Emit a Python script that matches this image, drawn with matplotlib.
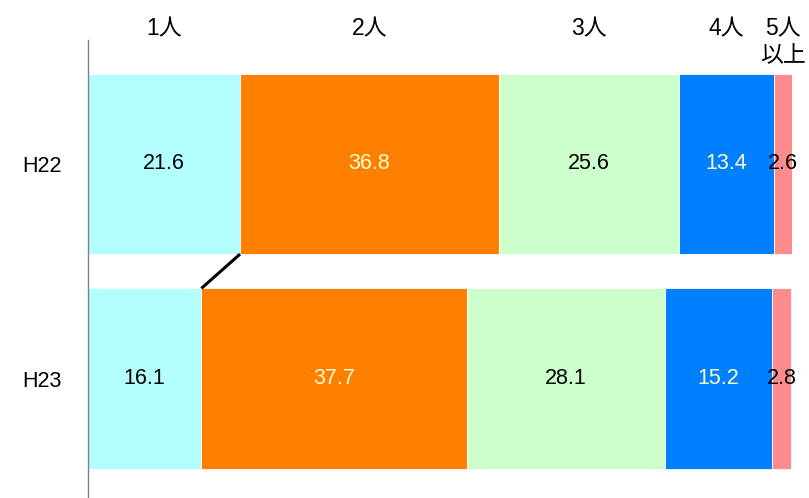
import matplotlib.pyplot as plt
import matplotlib.transforms as mtransforms
import numpy as np

plt.rcParams['font.family'] = ['Liberation Sans', 'Noto Sans CJK JP', 'DejaVu Sans']

# --- data ---
years = ['H22', 'H23']
groups = ['1人', '2人', '3人', '4人', '5人\n以上']
h22 = [21.6, 36.8, 25.6, 13.4, 2.6]
h23 = [16.1, 37.7, 28.1, 15.2, 2.8]

colors = ['#B3FFFF', '#FF8000', '#CCFFCC', '#0080FF', '#FF8C8C']
text_colors = ['black', '#FFFFCC', 'black', '#FFFFCC', 'black']

W, H = 809, 498
fig = plt.figure(figsize=(W / 100, H / 100), dpi=100)
ax = fig.add_axes([88 / W, 0, 704 / W, (H - 40) / H])

fs = 15.5
bar_h = 0.84
rows = [h22, h23]
for yi, vals in enumerate(rows):
    left = 0
    for i, v in enumerate(vals):
        ax.barh(yi, v, left=left, height=bar_h, color=colors[i],
                edgecolor='white', linewidth=0.6)
        ax.text(left + v / 2, yi, f'{v:.1f}', ha='center', va='center',
                fontsize=fs, color=text_colors[i])
        left += v

# connector between the 1人 boundaries
ax.plot([h22[0], h23[0]], [0 + bar_h / 2, 1 - bar_h / 2],
        color='black', linewidth=2.2, solid_capstyle='butt')

# column headers over H22 segments
trans = mtransforms.blended_transform_factory(ax.transData, fig.transFigure)
cum = np.cumsum([0] + h22[:-1])
for g, start, v in zip(groups, cum, h22):
    ax.text(start + v / 2, 1 - 17 / H, g, ha='center', va='top',
            fontsize=16.5, transform=trans, linespacing=1.2)

ax.set_xlim(0, 100)
ax.set_ylim(1.557, -0.578)
ax.set_yticks(range(len(years)))
ax.set_yticklabels(years, fontsize=fs)
ax.tick_params(axis='y', length=0, pad=19)
ax.set_xticks([])
ax.spines[['top', 'right', 'bottom']].set_visible(False)
ax.spines['left'].set_color('#808080')
ax.spines['left'].set_linewidth(1)

plt.savefig('out.png', dpi=100)
